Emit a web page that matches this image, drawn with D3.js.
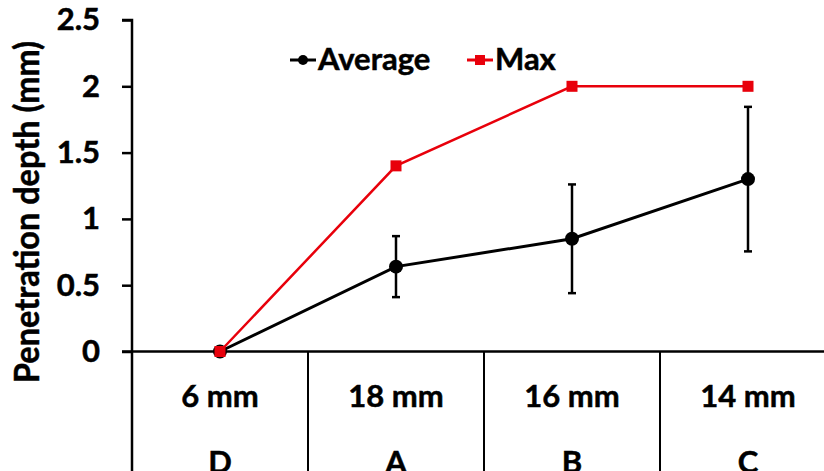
<!DOCTYPE html>
<html>
<head>
<meta charset="utf-8">
<script src="https://cdn.jsdelivr.net/npm/d3@7"></script>
<style>
  html, body { margin: 0; padding: 0; background: #fff; }
  svg { display: block; font-family: Lato, "Open Sans", sans-serif; font-weight: 700; }
  svg text { stroke: #000; stroke-width: 0.5px; }
</style>
</head>
<body>
<svg id="chart" width="824" height="471"></svg>
<script>
// dados
const groups = ["D", "A", "B", "C"];
const sizes = ["6 mm", "18 mm", "16 mm", "14 mm"];
const average = [0, 0.64, 0.85, 1.30];
const averageErr = [0, 0.23, 0.41, 0.545];
const maxValues = [0, 1.4, 2, 2];
const yTicks = [0, 0.5, 1, 1.5, 2, 2.5];

const width = 824, height = 471;
const margin = { top: 20, right: -12, bottom: 119.5, left: 132 };
const innerW = width - margin.left - margin.right;
const innerH = height - margin.top - margin.bottom;
const fontSize = 31;

const svg = d3.select("#chart");
svg.append("rect").attr("width", width).attr("height", height).attr("fill", "#fff");

const g = svg.append("g").attr("transform", `translate(${margin.left},${margin.top})`);

const x = d3.scaleBand().domain(groups).range([0, innerW]).padding(0);
const y = d3.scaleLinear().domain([0, 2.5]).range([innerH, 0]);
const cx = d => x(d) + x.bandwidth() / 2;

// eixo y
const yAxis = g.append("g")
    .call(d3.axisLeft(y).tickValues(yTicks).tickSize(10).tickPadding(22).tickFormat(d => d));
yAxis.select(".domain").attr("stroke", "#000").attr("stroke-width", 2.5)
    .attr("d", `M-10,0H0V${innerH + 120}`);
yAxis.selectAll(".tick line").attr("stroke", "#000").attr("stroke-width", 2.5);
yAxis.selectAll(".tick text").attr("fill", "#000").attr("font-size", fontSize).attr("font-weight", 700)
    .attr("font-family", "Lato, sans-serif");

// linha do zero e tabela de categorias
g.append("line").attr("x1", -10).attr("x2", innerW).attr("y1", y(0)).attr("y2", y(0))
    .attr("stroke", "#000").attr("stroke-width", 2.5);
g.selectAll(".sep").data(groups.slice(1)).enter().append("line")
    .attr("class", "sep")
    .attr("x1", d => x(d)).attr("x2", d => x(d))
    .attr("y1", y(0)).attr("y2", height - margin.top)
    .attr("stroke", "#000").attr("stroke-width", 2);

g.selectAll(".size-label").data(groups).enter().append("text")
    .attr("class", "size-label")
    .attr("x", cx).attr("y", y(0) + 55)
    .attr("text-anchor", "middle").attr("font-size", fontSize)
    .text((d, i) => sizes[i]);
g.selectAll(".group-label").data(groups).enter().append("text")
    .attr("class", "group-label")
    .attr("x", cx).attr("y", y(0) + 121)
    .attr("text-anchor", "middle").attr("font-size", fontSize)
    .text(d => d);

// título do eixo y
svg.append("text")
    .attr("transform", `translate(39,${212}) rotate(-90)`)
    .attr("text-anchor", "middle").attr("font-size", 34)
    .attr("textLength", 342).attr("lengthAdjust", "spacingAndGlyphs")
    .text("Penetration depth (mm)");

const line = d3.line().x(d => cx(d.k)).y(d => y(d.v));
const maxData = groups.map((k, i) => ({ k, v: maxValues[i] }));
const avgData = groups.map((k, i) => ({ k, v: average[i], e: averageErr[i] }));

// barras de erro
const err = g.selectAll(".err").data(avgData.filter(d => d.e > 0)).enter().append("g").attr("class", "err");
err.append("line").attr("x1", d => cx(d.k)).attr("x2", d => cx(d.k))
    .attr("y1", d => y(d.v - d.e)).attr("y2", d => y(d.v + d.e))
    .attr("stroke", "#000").attr("stroke-width", 2.5);
err.selectAll(".cap").data(d => [d.v - d.e, d.v + d.e].map(v => ({ k: d.k, v }))).enter().append("line")
    .attr("x1", d => cx(d.k) - 4).attr("x2", d => cx(d.k) + 4)
    .attr("y1", d => y(d.v)).attr("y2", d => y(d.v))
    .attr("stroke", "#000").attr("stroke-width", 2.5);

// série Average
g.append("path").datum(avgData).attr("d", line)
    .attr("fill", "none").attr("stroke", "#000").attr("stroke-width", 3);
g.selectAll(".avg-pt").data(avgData).enter().append("circle")
    .attr("class", "avg-pt")
    .attr("cx", d => cx(d.k)).attr("cy", d => y(d.v)).attr("r", 7)
    .attr("fill", "#000");

// série Max
g.append("path").datum(maxData).attr("d", line)
    .attr("fill", "none").attr("stroke", "#e8000b").attr("stroke-width", 2.5);
g.selectAll(".max-pt").data(maxData).enter().append("rect")
    .attr("class", "max-pt")
    .attr("x", d => cx(d.k) - 5.5).attr("y", d => y(d.v) - 5.5)
    .attr("width", 11).attr("height", 11)
    .attr("fill", "#e8000b");

// legenda
const legend = svg.append("g").attr("transform", "translate(290,60)");
const items = [
    { name: "Average", color: "#000", shape: "circle", x: 0 },
    { name: "Max", color: "#e8000b", shape: "rect", x: 177 }
];
items.forEach(it => {
    const li = legend.append("g").attr("transform", `translate(${it.x},0)`);
    li.append("line").attr("x1", 0).attr("x2", 26).attr("stroke", it.color).attr("stroke-width", 3);
    if (it.shape === "circle") li.append("circle").attr("cx", 13).attr("r", 5).attr("fill", it.color);
    else li.append("rect").attr("x", 8).attr("y", -5).attr("width", 10).attr("height", 10).attr("fill", it.color);
    li.append("text").attr("x", 28).attr("y", 10).attr("font-size", fontSize).text(it.name);
});
</script>
</body>
</html>
